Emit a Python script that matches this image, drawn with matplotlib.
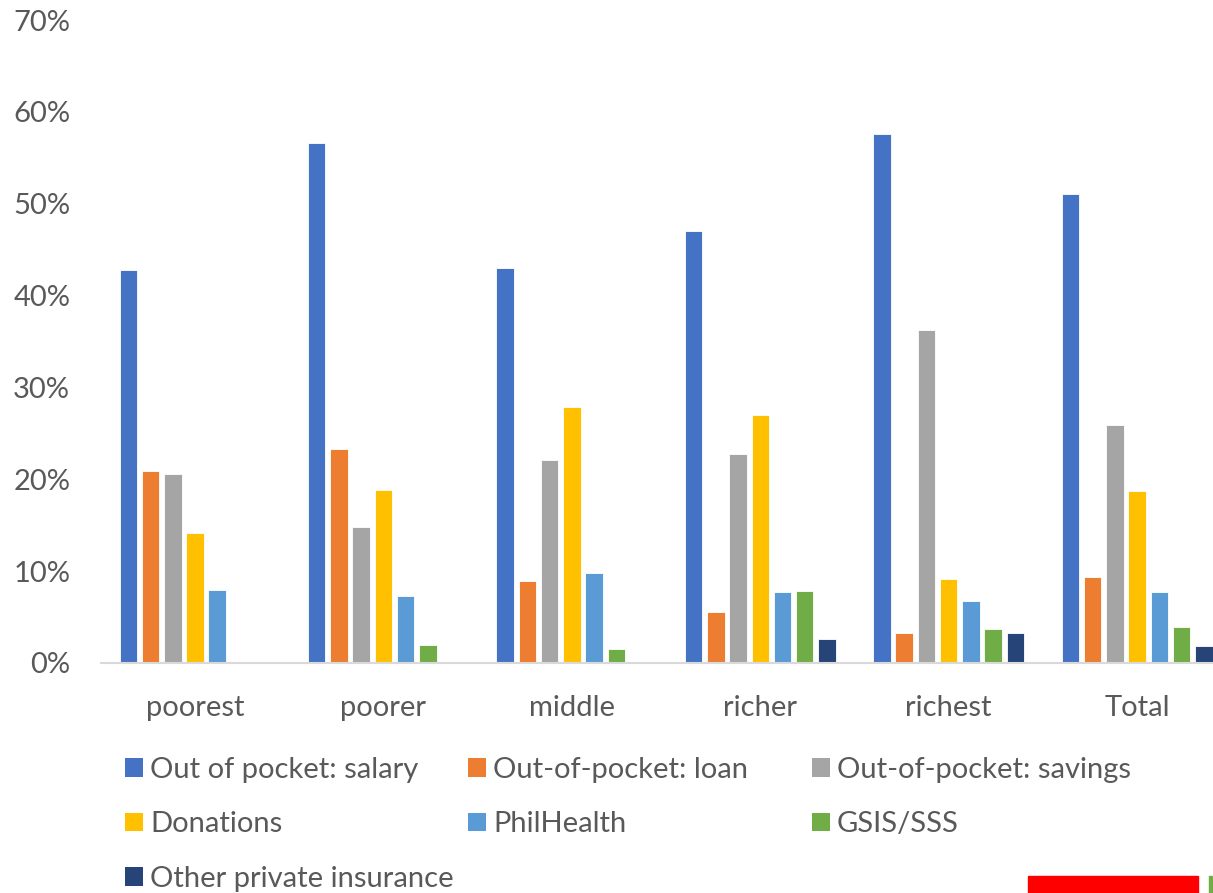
import matplotlib.pyplot as plt
from matplotlib.patches import Patch, Rectangle
from matplotlib.ticker import PercentFormatter
import numpy as np

plt.rcParams['font.family'] = ['Lato', 'DejaVu Sans']

categories = ['poorest', 'poorer', 'middle', 'richer', 'richest', 'Total']
series_names = ['Out of pocket: salary', 'Out-of-pocket: loan', 'Out-of-pocket: savings',
                'Donations', 'PhilHealth', 'GSIS/SSS', 'Other private insurance']
salary    = [42.8, 56.6, 43.0, 47.0, 57.6, 51.1]
loan      = [20.9, 23.3, 8.9, 5.5, 3.3, 9.4]
savings   = [20.6, 14.8, 22.1, 22.7, 36.3, 25.9]
donations = [14.2, 18.8, 27.9, 27.0, 9.1, 18.7]
philhealth = [7.9, 7.3, 9.8, 7.7, 6.7, 7.7]
gsis      = [0.0, 2.0, 1.5, 7.8, 3.7, 3.9]
other_ins = [0.0, 0.0, 0.15, 2.6, 3.3, 1.9]
series = [salary, loan, savings, donations, philhealth, gsis, other_ins]
colors = ['#4472C4', '#ED7D31', '#A5A5A5', '#FFC000', '#5B9BD5', '#70AD47', '#264478']

TXT = '#595959'
FS = 21

fig = plt.figure(figsize=(12.13, 8.93), dpi=100)
ax = fig.add_axes([0.0831, 0.2576, 0.932, 0.72])

x = np.arange(len(categories))
pitch = 0.118
width = 0.093
for i, (vals, c) in enumerate(zip(series, colors)):
    ax.bar(x + (i - 3) * pitch, vals, width, color=c, edgecolor='white', linewidth=0.6,
           label=series_names[i])

ax.set_xlim(-0.5, 5.5)
ax.set_ylim(0, 70)
ax.set_yticks(np.arange(0, 71, 10))
ax.yaxis.set_major_formatter(PercentFormatter(decimals=0))
ax.set_xticks(x)
ax.set_xticklabels(categories)
ax.tick_params(axis='both', length=0, labelsize=FS, colors=TXT)
ax.tick_params(axis='x', pad=23)
ax.tick_params(axis='y', pad=22)
for s in ['top', 'right', 'left']:
    ax.spines[s].set_visible(False)
ax.spines['bottom'].set_color('#D9D9D9')
ax.spines['bottom'].set_linewidth(1.5)

# legend, three fixed-width columns like Excel
handles = [Patch(facecolor=c) for c in colors]
col_x = [125, 468, 812]
for col in range(3):
    idx = list(range(col, 7, 3))
    fig.legend([handles[k] for k in idx], [series_names[k] for k in idx],
               loc='upper left', bbox_to_anchor=(col_x[col] / 1213, 1 - 757 / 893),
               frameon=False, fontsize=FS, labelcolor=TXT, borderpad=0, borderaxespad=0,
               handlelength=0.62, handleheight=0.62, handletextpad=0.24,
               labelspacing=0.97)

# cropped pieces at the bottom right edge
fig.patches.append(Rectangle((1028 / 1213, 0), 170 / 1213, 17 / 893,
                             transform=fig.transFigure, color='#FF0000'))
fig.patches.append(Rectangle((1209 / 1213, 0), 3 / 1213, 17 / 893,
                             transform=fig.transFigure, color='#70AD47'))

fig.savefig('out.png', dpi=100)
